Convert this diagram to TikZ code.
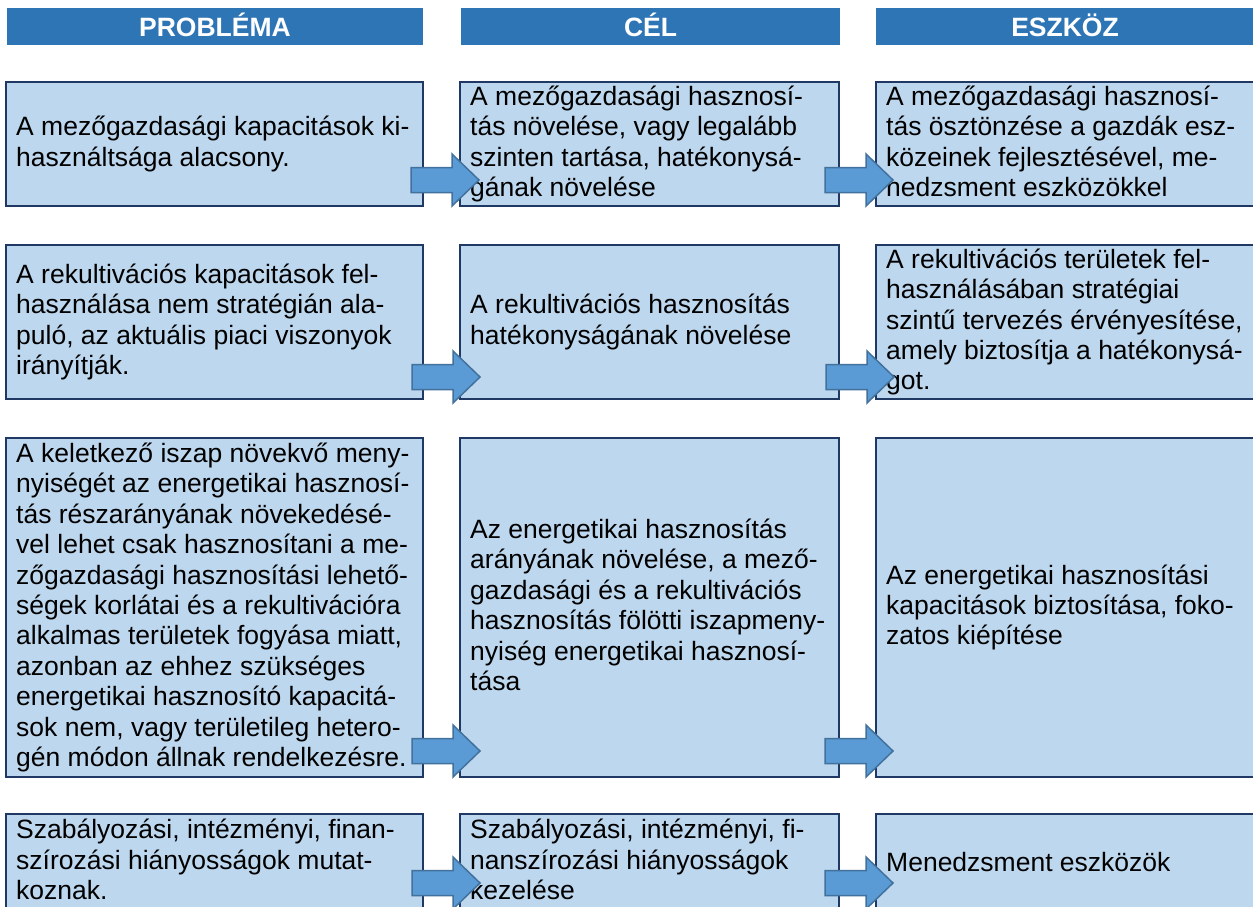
\documentclass[tikz,border=0pt]{standalone}
\usepackage{fontspec}
\setmainfont{Liberation Sans}
\usetikzlibrary{calc}
\definecolor{hdr}{HTML}{2E75B6}
\definecolor{boxfill}{HTML}{BDD7EE}
\definecolor{boxline}{HTML}{1F3864}
\definecolor{arrfill}{HTML}{5B9BD5}
\definecolor{arrline}{HTML}{41719C}
\newcommand\myst{\vrule height 23.5pt depth 5.4pt width 0pt}
\tikzset{
 hdrbar/.style={fill=hdr, draw=none, inner sep=0, outer sep=0, anchor=north west,
   text=white, font=\fontsize{26.5}{30}\selectfont\bfseries, text height=19pt, text depth=0pt},
 cellbox/.style={draw=boxline, fill=boxfill, line width=2.2pt, outer sep=0, inner sep=0, anchor=north west},
 celltext/.style={anchor=west, align=left, inner sep=0, font=\fontsize{26.5}{30.4}\selectfont,
   execute at begin node=\myst, execute at end node=\myst},
 blockarrow/.style={draw=arrline, fill=arrfill, line width=1.5pt, line join=miter},
 pics/barrow/.style={code={\draw[blockarrow] (0,0) -- (-27,26) -- (-27,12.5) -- (-68,12.5) -- (-68,-12.5) -- (-27,-12.5) -- (-27,-26) -- cycle;}}
}
\begin{document}
\begin{tikzpicture}[x=1pt,y=-1pt]
\useasboundingbox (0,0) rectangle (1253,906);
\clip (0,0) rectangle (1253,906);
\fill[white] (0,0) rectangle (1253,906);

% headers
\node[hdrbar, minimum width=416, minimum height=37] (h1) at (7,8) {PROBLÉMA};
\node[hdrbar, minimum width=379, minimum height=37] (h2) at (461,8) {CÉL};
\node[hdrbar, minimum width=378, minimum height=37] (h3) at (876,8) {ESZKÖZ};

% row 1
\node[cellbox, minimum width=417, minimum height=124] (b11) at (6,82) {};
\node[cellbox, minimum width=379, minimum height=124] (b12) at (460,82) {};
\node[cellbox, minimum width=385, minimum height=124] (b13) at (876,82) {};
% row 2
\node[cellbox, minimum width=417, minimum height=154] (b21) at (6,245) {};
\node[cellbox, minimum width=379, minimum height=154] (b22) at (460,245) {};
\node[cellbox, minimum width=385, minimum height=154] (b23) at (876,245) {};
% row 3
\node[cellbox, minimum width=417, minimum height=339] (b31) at (6,438) {};
\node[cellbox, minimum width=379, minimum height=339] (b32) at (460,438) {};
\node[cellbox, minimum width=385, minimum height=339] (b33) at (876,438) {};
% row 4
\node[cellbox, minimum width=417, minimum height=96] (b41) at (6,814) {};
\node[cellbox, minimum width=379, minimum height=96] (b42) at (460,814) {};
\node[cellbox, minimum width=385, minimum height=96] (b43) at (876,814) {};

% texts
\node[celltext] (t11) at ($(b11.west)+(10,0)$) {A mezőgazdasági kapacitások ki-\\használtsága alacsony.};
\node[celltext] (t12) at ($(b12.west)+(10,0)$) {A mezőgazdasági hasznosí-\\tás növelése, vagy legalább\\szinten tartása, hatékonysá-\\gának növelése};
\node[celltext] (t13) at ($(b13.west)+(10,0)$) {A mezőgazdasági hasznosí-\\tás ösztönzése a gazdák esz-\\közeinek fejlesztésével, me-\\nedzsment eszközökkel};

\node[celltext] (t21) at ($(b21.west)+(10,0)$) {A rekultivációs kapacitások fel-\\használása nem stratégián ala-\\puló, az aktuális piaci viszonyok\\irányítják.};
\node[celltext] (t22) at ($(b22.west)+(10,0)$) {A rekultivációs hasznosítás\\hatékonyságának növelése};
\node[celltext] (t23) at ($(b23.west)+(10,0)$) {A rekultivációs területek fel-\\használásában stratégiai\\szintű tervezés érvényesítése,\\amely biztosítja a hatékonysá-\\got.};

\node[celltext] (t31) at ($(b31.west)+(10,0)$) {A keletkező iszap növekvő meny-\\nyiségét az energetikai hasznosí-\\tás részarányának növekedésé-\\vel lehet csak hasznosítani a me-\\zőgazdasági hasznosítási lehető-\\ségek korlátai és a rekultivációra\\alkalmas területek fogyása miatt,\\azonban az ehhez szükséges\\energetikai hasznosító kapacitá-\\sok nem, vagy területileg hetero-\\gén módon állnak rendelkezésre.};
\node[celltext] (t32) at ($(b32.west)+(10,0)$) {Az energetikai hasznosítás\\arányának növelése, a mező-\\gazdasági és a rekultivációs\\hasznosítás fölötti iszapmeny-\\nyiség energetikai hasznosí-\\tása};
\node[celltext] (t33) at ($(b33.west)+(10,0)$) {Az energetikai hasznosítási\\kapacitások biztosítása, foko-\\zatos kiépítése};

\node[celltext] (t41) at ($(b41.west)+(10,0)$) {Szabályozási, intézményi, finan-\\szírozási hiányosságok mutat-\\koznak.};
\node[celltext] (t42) at ($(b42.west)+(10,0)$) {Szabályozási, intézményi, fi-\\nanszírozási hiányosságok\\kezelése};
\node[celltext] (t43) at ($(b43.west)+(10,0)$) {Menedzsment eszközök};

% arrows
\pic at ($(b11.south east)+(56,-26)$) {barrow};
\pic at ($(b12.south east)+(54,-26)$) {barrow};
\pic at ($(b21.south east)+(57,-22)$) {barrow};
\pic at ($(b22.south east)+(55,-22)$) {barrow};
\pic at ($(b31.south east)+(57,-26)$) {barrow};
\pic at ($(b32.south east)+(54,-26)$) {barrow};
\pic at ($(b41.south east)+(57,-27)$) {barrow};
\pic at ($(b42.south east)+(54,-27)$) {barrow};
\end{tikzpicture}
\end{document}
